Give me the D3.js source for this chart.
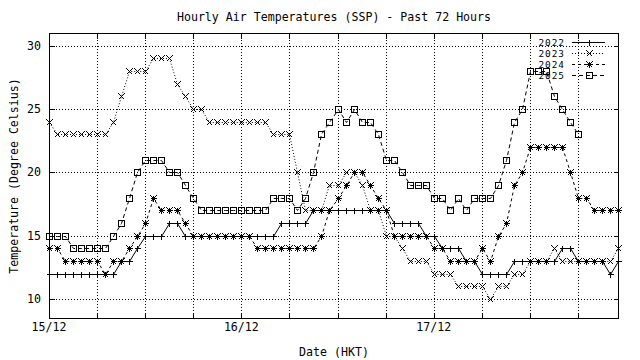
<!DOCTYPE html>
<html><head><meta charset="utf-8">
<script src="https://cdn.jsdelivr.net/npm/d3@7"></script>
<style>
body{margin:0;background:#fff}
svg{display:block}
text{font-family:"DejaVu Sans Mono","Liberation Mono",monospace;font-size:11.6px;fill:#000}
</style>
</head><body>
<svg id="c" width="640" height="360"></svg>
<script>
// ---- data (hourly, starting 15/12 00:00 HKT) ----
const seriesNames = ["2022","2023","2024","2025"];
const t2022 = [12,12,12,12,12,12,12,12,12,13,13,14,15,15,15,16,16,15,15,15,15,15,15,15,15,15,15,15,15,16,16,16,16,17,17,17,17,17,17,17,17,17,17,16,16,16,16,15,15,14,14,14,13,13,12,12,12,12,13,13,13,13,13,13,14,14,13,13,13,13,12,13];
const t2023 = [24,23,23,23,23,23,23,23,24,26,28,28,28,29,29,29,27,26,25,25,24,24,24,24,24,24,24,24,23,23,23,20,17,17,17,19,19,20,20,19,17,17,15,15,14,13,13,13,12,12,12,11,11,11,11,10,11,11,12,12,13,13,13,14,13,13,13,13,13,13,13,14];
const t2024 = [14,14,13,13,13,13,13,12,13,13,14,15,16,18,17,17,17,16,15,15,15,15,15,15,15,15,14,14,14,14,14,14,14,14,15,17,18,19,20,20,19,18,17,15,15,15,15,15,14,14,13,13,13,13,14,13,15,16,19,20,22,22,22,22,22,20,18,18,17,17,17,17];
const t2025 = [15,15,15,14,14,14,14,14,15,16,18,20,21,21,21,20,20,19,18,17,17,17,17,17,17,17,17,17,18,18,18,17,18,20,23,24,25,24,25,24,24,23,21,21,20,19,19,19,18,18,17,18,17,18,18,18,19,21,24,25,28,28,28,26,25,24,23];
const xTickHours = [0,24,48];
const xTickLabels = ["15/12","16/12","17/12"];
const yTicks = [10,15,20,25,30];
const titleText = "Hourly Air Temperatures (SSP) - Past 72 Hours";
const xTitle = "Date (HKT)";
const yTitle = "Temperature (Degree Celsius)";

// ---- layout ----
const svg = d3.select("#c").attr("shape-rendering","crispEdges");
const x = d3.scaleLinear().domain([0,71]).range([49,618]);
const y = d3.scaleLinear().domain([8.5,31]).range([318,33]);
const px = v => Math.round(x(v)) + 0.5;
const py = v => Math.round(y(v)) + 0.5;
const L = px(0), R = px(71), T = py(31), B = py(8.5);
const gridHours = d3.range(6, 71, 6);
const tick = 5;

svg.append("rect").attr("width",640).attr("height",360).attr("fill","#fff");

// grid
const g = svg.append("g").attr("stroke","#000").attr("stroke-width",1).attr("stroke-dasharray","1,2").attr("fill","none");
gridHours.forEach(h => g.append("line").attr("x1",px(h)).attr("x2",px(h)).attr("y1",T).attr("y2",B));
yTicks.forEach(v => g.append("line").attr("x1",L).attr("x2",R).attr("y1",py(v)).attr("y2",py(v)));

// ticks (inward, mirrored)
const tk = svg.append("g").attr("stroke","#000").attr("stroke-width",1);
gridHours.forEach(h => {
  tk.append("line").attr("x1",px(h)).attr("x2",px(h)).attr("y1",B).attr("y2",B-tick);
  tk.append("line").attr("x1",px(h)).attr("x2",px(h)).attr("y1",T).attr("y2",T+tick);
});
yTicks.forEach(v => {
  tk.append("line").attr("x1",L).attr("x2",L+tick).attr("y1",py(v)).attr("y2",py(v));
  tk.append("line").attr("x1",R).attr("x2",R-tick).attr("y1",py(v)).attr("y2",py(v));
});

// tick labels
xTickHours.forEach((h,i) => svg.append("text").attr("x",x(h)).attr("y",331).attr("text-anchor","middle").text(xTickLabels[i]));
yTicks.forEach(v => svg.append("text").attr("x",41).attr("y",y(v)+4).attr("text-anchor","end").text(v));

// titles
svg.append("text").attr("x",(L+R)/2).attr("y",21).attr("text-anchor","middle").text(titleText);
svg.append("text").attr("x",(L+R)/2).attr("y",356).attr("text-anchor","middle").text(xTitle);
svg.append("text").attr("transform",`translate(18,${(T+B)/2}) rotate(-90)`).attr("text-anchor","middle").text(yTitle);

// markers
const mk = {
  plus: (cx,cy) => `M${cx-3},${cy}H${cx+3}M${cx},${cy-3}V${cy+3}`,
  cross: (cx,cy) => `M${cx-3},${cy-3}L${cx+3},${cy+3}M${cx-3},${cy+3}L${cx+3},${cy-3}`,
  star: (cx,cy) => `M${cx-3},${cy}H${cx+3}M${cx},${cy-3}V${cy+3}M${cx-3},${cy-3}L${cx+3},${cy+3}M${cx-3},${cy+3}L${cx+3},${cy-3}`,
  box: (cx,cy) => `M${cx-3},${cy-3}H${cx+3}V${cy+3}H${cx-3}ZM${cx},${cy}h0.5`
};
const styles = [
  {data:t2022, dash:null, m:"plus"},
  {data:t2023, dash:"1,2", m:"cross"},
  {data:t2024, dash:"3,3", m:"star"},
  {data:t2025, dash:"4,3", m:"box"}
];
const line = d3.line().x((d,i)=>px(i)).y(d=>py(d));
const plot = svg.append("g");
styles.forEach(s => {
  plot.append("path").attr("d",line(s.data)).attr("fill","none").attr("stroke","#000").attr("stroke-width",1)
    .attr("stroke-dasharray",s.dash).attr("shape-rendering","auto");
  const p = s.data.map((d,i)=>mk[s.m](px(i),py(d))).join("");
  plot.append("path").attr("d",p).attr("fill","none").attr("stroke","#000").attr("stroke-width",1);
});

// frame
svg.append("rect").attr("x",L).attr("y",T).attr("width",R-L).attr("height",B-T).attr("fill","none").attr("stroke","#000");

// legend
const lg = svg.append("g");
seriesNames.forEach((n,i) => {
  const ly = Math.round(42 + i*11) + 0.5;
  lg.append("text").attr("x",565).attr("y",ly+3.5).attr("text-anchor","end")
    .style("font-size","9.4px").style("letter-spacing","1px").text(n);
  lg.append("line").attr("x1",572).attr("x2",605).attr("y1",ly).attr("y2",ly).attr("stroke","#000").attr("stroke-dasharray",styles[i].dash);
  lg.append("path").attr("d",mk[styles[i].m](589.5,ly)).attr("fill","none").attr("stroke","#000");
});
</script>
</body></html>
